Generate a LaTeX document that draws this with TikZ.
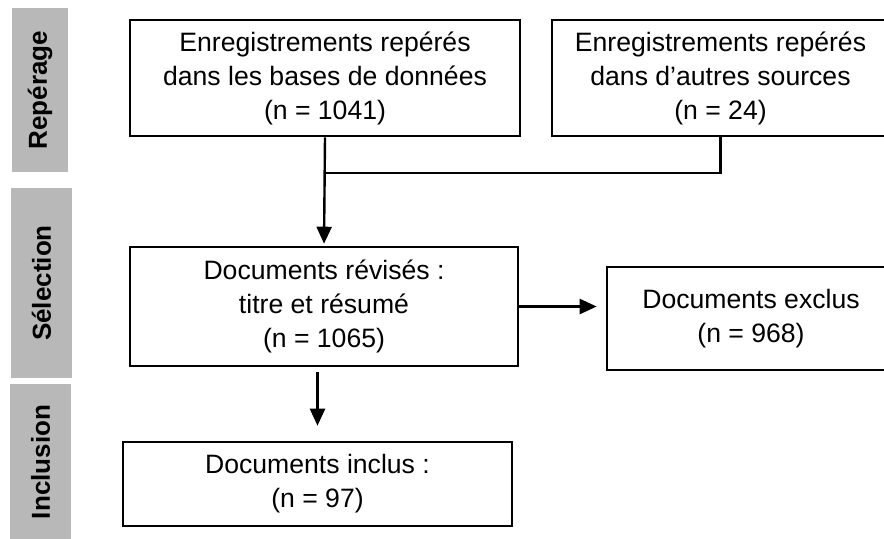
\documentclass[tikz,border=0pt]{standalone}
\usepackage{fontspec}
\setmainfont{Liberation Sans}
\usetikzlibrary{arrows.meta}
\definecolor{bargray}{RGB}{184,184,184}
\begin{document}
\begin{tikzpicture}[x=0.5pt,y=-0.5pt,
    font=\fontsize{13.3pt}{17pt}\selectfont,
    box/.style={draw,line width=1.3pt,align=center,inner sep=0pt},
    stage/.style={fill=bargray,rotate=90,inner sep=0pt,
        font=\fontsize{13pt}{15pt}\selectfont\bfseries},
    flow/.style={line width=1.2pt,-{Triangle[length=8.5pt,width=7.5pt]}}]
    \useasboundingbox (0,0) rectangle (884,538);
    % stages
    \node[stage,minimum width=82pt,minimum height=28pt] (rep) at (40,90) {Repérage};
    \node[stage,minimum width=95pt,minimum height=30.5pt] (sel) at (41.5,283) {Sélection};
    \node[stage,minimum width=78pt,minimum height=30.5pt] (inc) at (40.5,462) {Inclusion};
    % boxes
    \node[box,minimum width=195pt,minimum height=58pt] (bases) at (325,78)
        {Enregistrements repérés\\dans les bases de données\\(n = 1041)};
    \node[box,minimum width=168.5pt,minimum height=58pt] (autres) at (720.5,78)
        {Enregistrements repérés\\dans d’autres sources\\(n = 24)};
    \node[box,minimum width=194pt,minimum height=59.5pt] (revises) at (324,306.5)
        {Documents révisés :\\titre et résumé\\(n = 1065)};
    \node[box,minimum width=144pt,minimum height=51.5pt] (exclus) at (751,318.5)
        {Documents exclus\\(n = 968)};
    \node[box,minimum width=194.5pt,minimum height=42pt] (inclus) at (317.5,484)
        {Documents inclus :\\(n = 97)};
    % connectors
    \coordinate (mergey) at (0,173);
    \draw[flow,shorten >=1pt] (bases.south) -- (revises.north);
    \draw[line width=1.2pt] (autres.south) |- (bases.south |- mergey);
    \draw[flow,shorten >=4.5pt] (revises.east) -- (revises.east -| exclus.west);
    \draw[flow,shorten <=2.5pt,shorten >=7.5pt] (inclus.north |- revises.south) -- (inclus.north);
\end{tikzpicture}
\end{document}
